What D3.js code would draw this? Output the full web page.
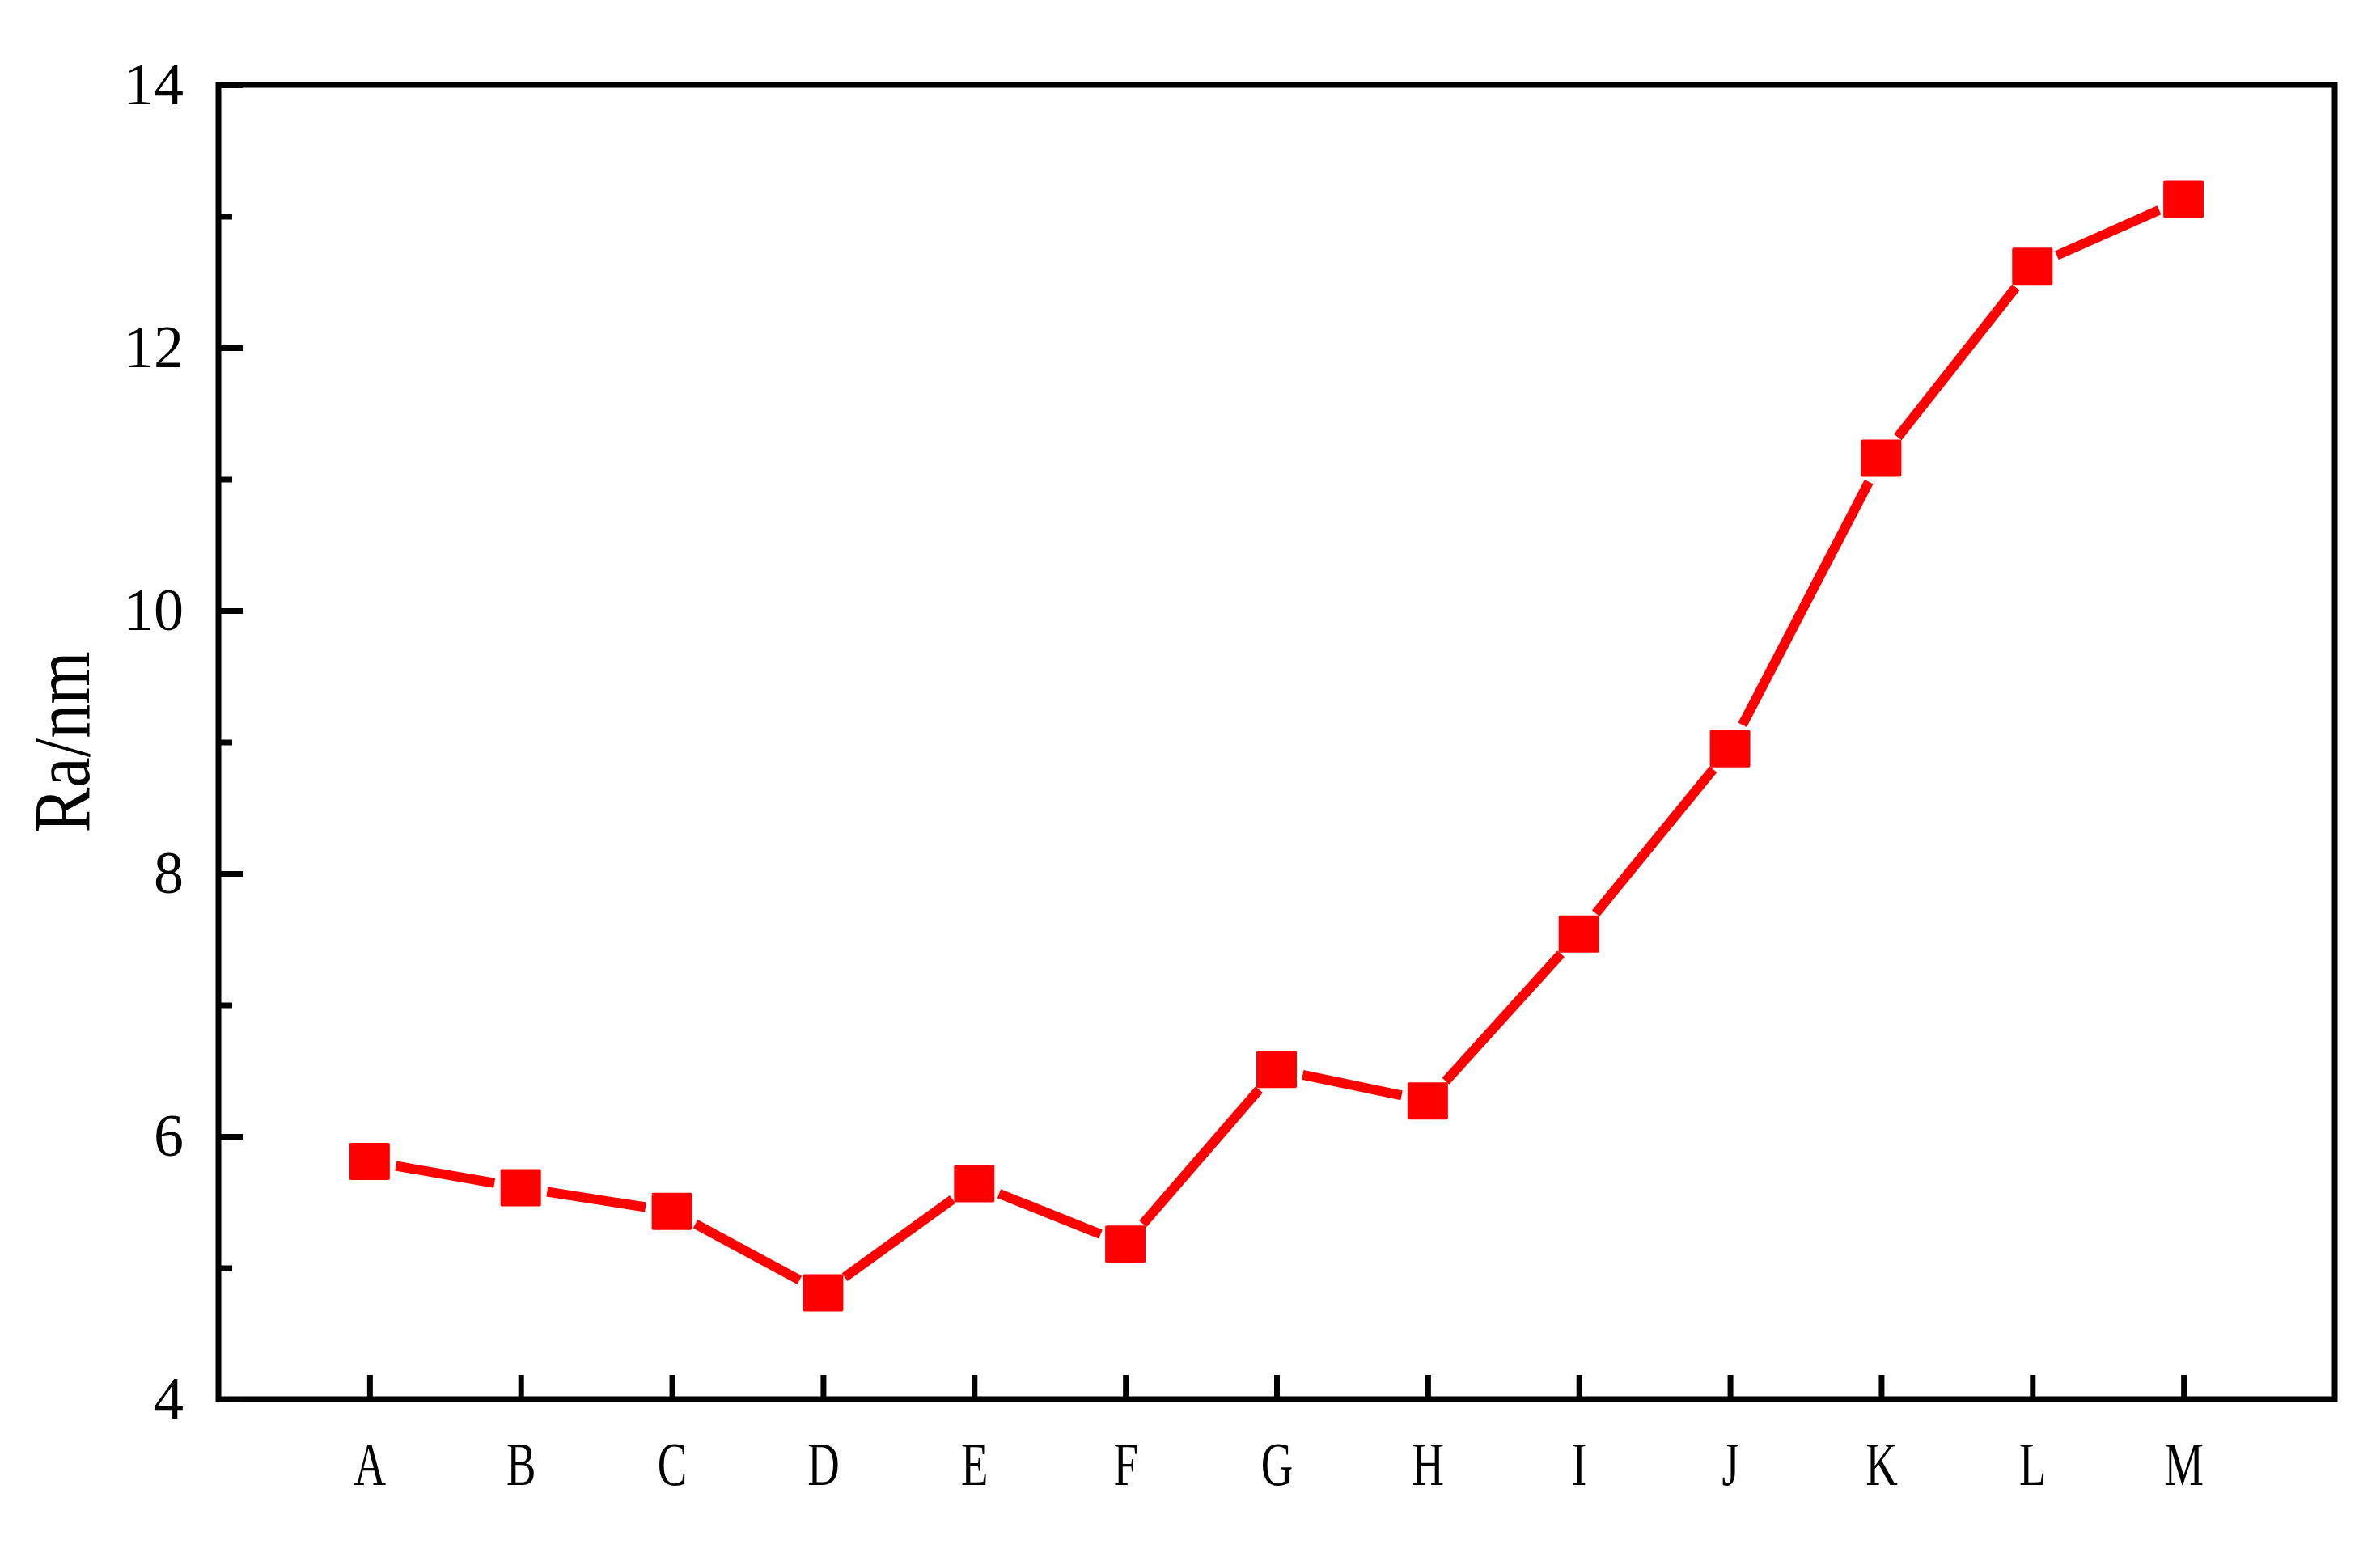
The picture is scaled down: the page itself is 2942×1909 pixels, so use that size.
<!DOCTYPE html>
<html>
<head>
<meta charset="utf-8">
<script src="https://cdn.jsdelivr.net/npm/d3@7"></script>
<style>
	body { margin: 0; background: #fff; }
	.axis text { font-family: 'Liberation Serif', 'Times New Roman', serif; fill: #000; }
</style>
</head>
<body>
<script>
// Data
var categories = ['A', 'B', 'C', 'D', 'E', 'F', 'G', 'H', 'I', 'J', 'K', 'L', 'M'];
var ra = [5.81, 5.61, 5.43, 4.81, 5.64, 5.18, 6.51, 6.27, 7.54, 8.95, 11.16, 12.62, 13.13];
var majorTicks = [4, 6, 8, 10, 12, 14];
var minorTicks = [5, 7, 9, 11, 13];
var yTitle = 'Ra/nm';

// Set dimensions
var W = 2942, H = 1909;
var margin = { top: 105, right: 56, bottom: 179, left: 270 };
var width = W - margin.left - margin.right,
	height = H - margin.top - margin.bottom;

var data = categories.map((c, i) => ({ cat: c, pos: i + 1, v: ra[i] }));

// Scales: categories sit at 1..13 on a 0..14 axis
var x = d3.scaleLinear().domain([0, categories.length + 1]).range([0, width]);
var y = d3.scaleLinear().domain([4, 14]).range([height, 0]);

var svg = d3
	.select('body')
	.append('svg')
	.attr('width', W)
	.attr('height', H)
	.append('g')
	.attr('transform', 'translate(' + margin.left + ',' + margin.top + ')');

// x axis, ticks inward
var xAxis = svg
	.append('g')
	.attr('class', 'x axis')
	.attr('transform', 'translate(0,' + height + ')')
	.call(
		d3.axisBottom(x)
			.tickValues(data.map(d => d.pos))
			.tickFormat((d, i) => categories[i])
			.tickSize(-30)
			.tickSizeOuter(0)
			.tickPadding(52)
	);
xAxis.select('.domain').remove();
xAxis.selectAll('line').attr('stroke', '#000').attr('stroke-width', 7);
xAxis.selectAll('text')
	.style('font-size', '76px')
	.attr('transform', 'scale(0.72,1)');

// y axis major
var yAxis = svg
	.append('g')
	.attr('class', 'y axis')
	.call(
		d3.axisLeft(y)
			.tickValues(majorTicks)
			.tickSize(-30)
			.tickSizeOuter(0)
			.tickPadding(43)
	);
yAxis.select('.domain').remove();
yAxis.selectAll('line').attr('stroke', '#000').attr('stroke-width', 7);
yAxis.selectAll('text').style('font-size', '74px');

// y axis minor
var yMinor = svg
	.append('g')
	.attr('class', 'y axis minor')
	.call(
		d3.axisLeft(y)
			.tickValues(minorTicks)
			.tickSize(-17)
			.tickSizeOuter(0)
			.tickFormat('')
	);
yMinor.select('.domain').remove();
yMinor.selectAll('line').attr('stroke', '#000').attr('stroke-width', 7);

// Frame
svg
	.append('rect')
	.attr('x', 0)
	.attr('y', 0)
	.attr('width', width)
	.attr('height', height)
	.attr('fill', 'none')
	.attr('stroke', '#000')
	.attr('stroke-width', 7);

// y axis title
svg
	.append('text')
	.attr('transform', 'translate(' + (110 - margin.left) + ',' + height / 2 + ') rotate(-90) scale(0.84,1)')
	.style('text-anchor', 'middle')
	.style('font-family', "'Liberation Serif', 'Times New Roman', serif")
	.style('font-size', '100px')
	.text(yTitle);

// Line segments, trimmed near each marker
var gap = 33;
var segs = d3.pairs(data).map(p => {
	var x0 = x(p[0].pos), y0 = y(p[0].v), x1 = x(p[1].pos), y1 = y(p[1].v);
	var len = Math.hypot(x1 - x0, y1 - y0);
	var ux = (x1 - x0) / len, uy = (y1 - y0) / len;
	return { x0: x0 + ux * gap, y0: y0 + uy * gap, x1: x1 - ux * gap, y1: y1 - uy * gap };
});

svg
	.append('g')
	.selectAll('line')
	.data(segs)
	.enter()
	.append('line')
	.attr('x1', d => d.x0)
	.attr('y1', d => d.y0)
	.attr('x2', d => d.x1)
	.attr('y2', d => d.y1)
	.attr('stroke', '#ff0000')
	.attr('stroke-width', 12);

// Square markers
var mw = 50, mh = 46;
svg
	.append('g')
	.selectAll('rect')
	.data(data)
	.enter()
	.append('rect')
	.attr('x', d => x(d.pos) - mw / 2)
	.attr('y', d => y(d.v) - mh / 2)
	.attr('width', mw)
	.attr('height', mh)
	.attr('rx', 2)
	.attr('fill', '#ff0000');
</script>
</body>
</html>
